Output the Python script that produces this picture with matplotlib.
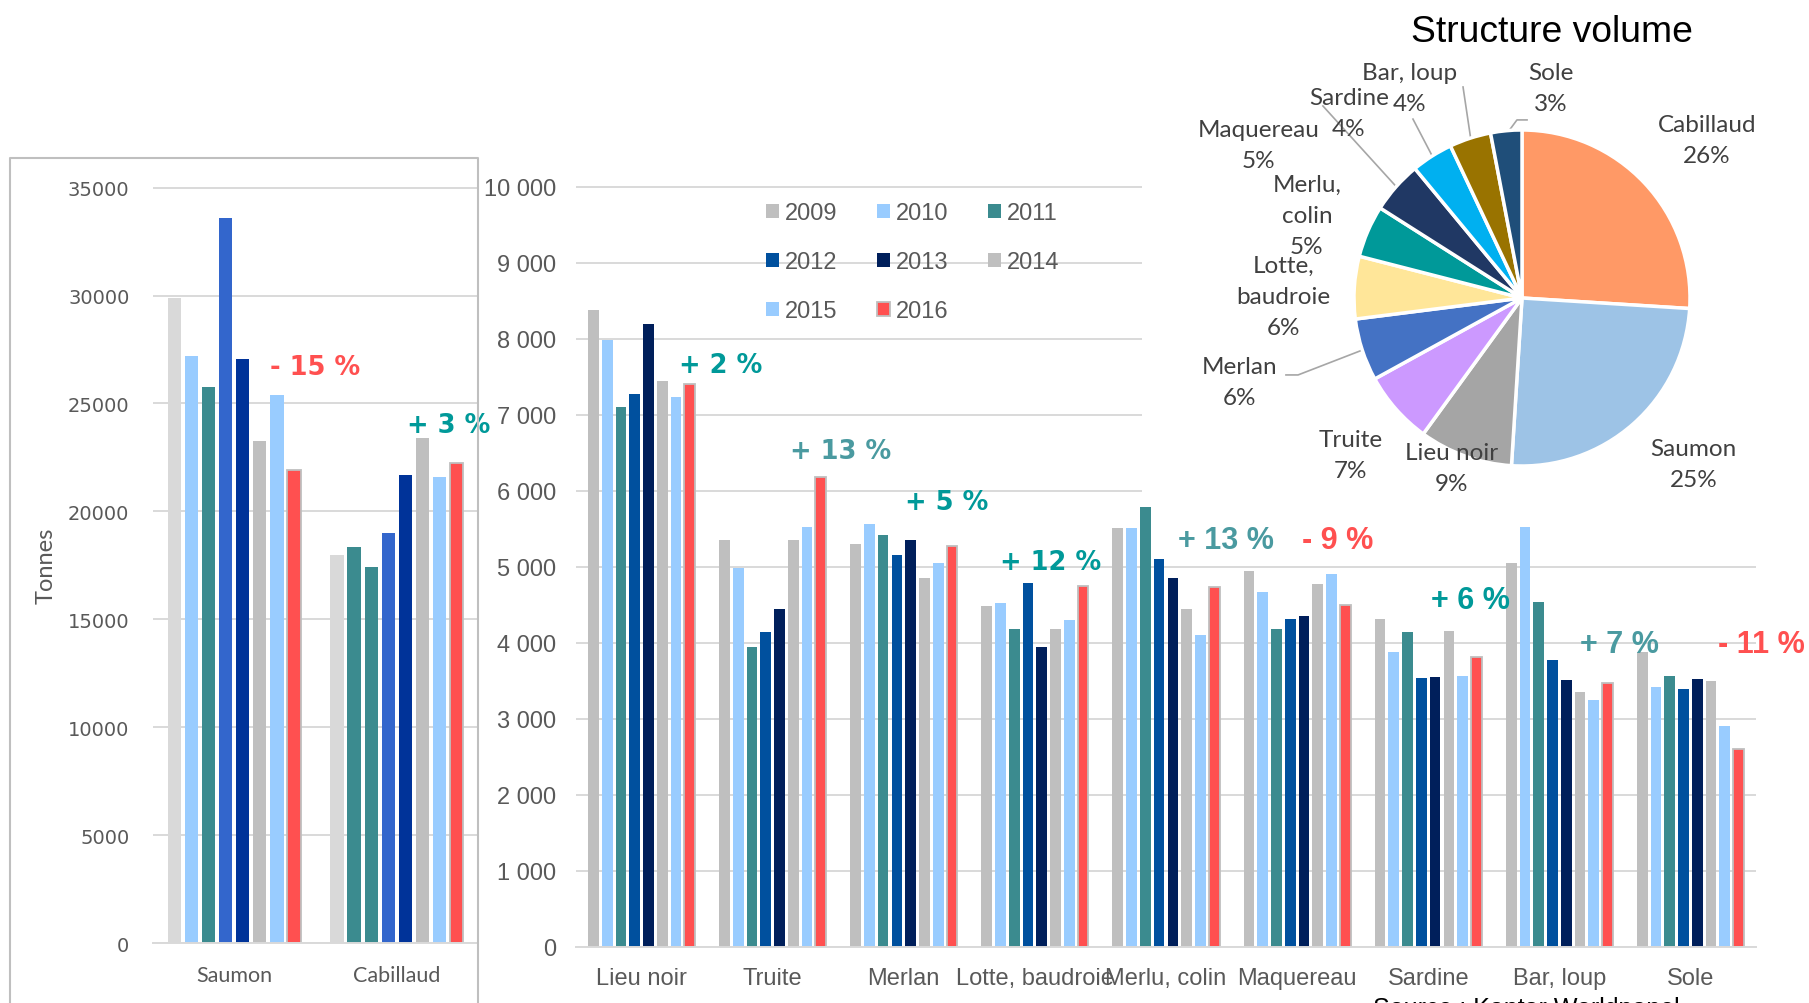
import matplotlib
matplotlib.use("Agg")
import matplotlib.pyplot as plt
from matplotlib.patches import Patch
from matplotlib.lines import Line2D
import numpy as np

# ---- data ----
years = ["2009", "2010", "2011", "2012", "2013", "2014", "2015", "2016"]

# left panel, tonnes
left_species = ["Saumon", "Cabillaud"]
saumon = [29900, 27180, 25770, 33590, 27080, 23250, 25370, 21940]
cabillaud = [17980, 18330, 17400, 18990, 21690, 23400, 21610, 22240]
left_changes = ["- 15 %", "+ 3 %"]

# middle panel, tonnes per year
species = ["Lieu noir", "Truite", "Merlan", "Lotte, baudroie", "Merlu, colin",
           "Maquereau", "Sardine", "Bar, loup", "Sole"]
v2009 = [8380, 5350, 5300, 4490, 5510, 4940, 4310, 5050, 3880]
v2010 = [7990, 4980, 5560, 4520, 5510, 4670, 3880, 5520, 3420]
v2011 = [7100, 3940, 5420, 4180, 5790, 4180, 4150, 4540, 3560]
v2012 = [7280, 4150, 5160, 4790, 5100, 4320, 3540, 3770, 3390]
v2013 = [8190, 4450, 5350, 3940, 4850, 4360, 3550, 3510, 3520]
v2014 = [7450, 5360, 4860, 4180, 4440, 4780, 4160, 3360, 3500]
v2015 = [7240, 5530, 5050, 4300, 4110, 4900, 3570, 3250, 2910]
v2016 = [7400, 6180, 5270, 4750, 4740, 4500, 3820, 3470, 2610]
changes = ["+ 2 %", "+ 13 %", "+ 5 %", "+ 12 %", "+ 13 %", "- 9 %", "+ 6 %", "+ 7 %", "- 11 %"]

# pie, share of volume
pie_names = ["Cabillaud", "Saumon", "Lieu noir", "Truite", "Merlan", "Lotte,\nbaudroie",
             "Merlu,\ncolin", "Maquereau", "Sardine", "Bar, loup", "Sole"]
pie_shares = [26, 25, 9, 7, 6, 6, 5, 5, 4, 4, 3]

# ---- style / layout ----
W, H = 1809, 1004
GRID = "#D9D9D9"
TXT = "#595959"
TEAL = "#009999"
TEAL2 = "#4A9AA0"
RED = "#FF5050"

left_colors = ["#D9D9D9", "#99CCFF", "#3B8B8F", "#3366CC", "#003399", "#BFBFBF", "#99CCFF", "#FF5050"]
mid_colors = ["#BFBFBF", "#99CCFF", "#3B8B8F", "#00509E", "#001F5B", "#BFBFBF", "#99CCFF", "#FF5050"]
pie_colors = ["#FF9966", "#9DC3E6", "#A5A5A5", "#CC99FF", "#4472C4", "#FFE699",
              "#009999", "#203864", "#00B0F0", "#997300", "#1F4E79"]

# annotation positions (data coords)
left_change_pos = [(0.50, 26700), (1.32, 24000)]
left_change_col = [RED, TEAL]
change_pos = [(0.60, 7660), (1.52, 6530), (2.33, 5850), (3.12, 5060), (4.46, 5350),
              (5.31, 5350), (6.32, 4570), (7.46, 3990), (8.54, 3990)]
change_col = [TEAL, TEAL2, TEAL, TEAL, TEAL2, RED, TEAL, TEAL2, RED]
change_wide = [True, True, True, True, False, False, False, False, False]

# pie label positions (pie data coords, radius 1)
pie_label_pos = [(1.10, 0.94), (1.02, -0.99), (-0.42, -1.01), (-1.02, -0.935), (-1.68, -0.50),
                 (-1.42, 0.01), (-1.28, 0.49), (-1.57, 0.91), (-1.03, 1.10), (-0.67, 1.25), (0.17, 1.25)]
leaders = {4: [(-1.405, -0.458), (-1.333, -0.458)], 7: [(-1.185, 1.143)], 8: [(-0.649, 1.065)],
           9: [(-0.351, 1.256)], 10: [(0.03, 1.06), (-0.03, 1.06)]}


def px_axes(x0, y0, x1, y1, **kw):
    return fig.add_axes([x0 / W, 1 - y1 / H, (x1 - x0) / W, (y1 - y0) / H], **kw)


def grouped_bars(ax, series, colors, n_cat, group=0.84, fill=0.78):
    n = len(series)
    slot = group / n
    x = np.arange(n_cat)
    out = []
    for i, (vals, col) in enumerate(zip(series, colors)):
        ec = "#BFBFBF" if i == n - 1 else col
        lw = 1.3 if i == n - 1 else 0
        out.append(ax.bar(x - group / 2 + slot * (i + 0.5), vals, slot * fill, color=col,
                          edgecolor=ec, linewidth=lw, label=years[i], zorder=2))
    return out


def style_axis(ax):
    for s in ["top", "right", "left"]:
        ax.spines[s].set_visible(False)
    ax.spines["bottom"].set_color(GRID)
    ax.spines["bottom"].set_linewidth(1.4)
    ax.yaxis.grid(True, color=GRID, linewidth=1.4)
    ax.set_axisbelow(True)
    ax.tick_params(length=0, colors=TXT)


fig = plt.figure(figsize=(W / 100, H / 100), dpi=100)

# ---- left panel ----
axl = px_axes(153, 188, 478, 944)
left_series = [[s, c] for s, c in zip(saumon, cabillaud)]
bars = grouped_bars(axl, left_series, left_colors, len(left_species))
bars[1][1].set_color("#3B8B8F")  # 2010 cabillaud bar is teal in the original
axl.set_xlim(-0.5, 1.5)
axl.set_ylim(0, 35030)
axl.set_yticks(np.arange(0, 35001, 5000))
axl.set_yticklabels([str(v) for v in range(0, 35001, 5000)], family="DejaVu Sans", fontsize=14)
axl.set_xticks(range(len(left_species)))
axl.set_xticklabels(left_species, family="Lato", fontsize=15.5)
style_axis(axl)
axl.tick_params(axis="y", pad=17)
axl.tick_params(axis="x", pad=16)
for txt, (x, y), c in zip(left_changes, left_change_pos, left_change_col):
    axl.text(x, y, txt, color=c, fontsize=18.5, fontweight="bold", family="DejaVu Sans",
             ha="center", va="center", clip_on=False, zorder=5)
fig.text(46 / W, 1 - 566 / H, "Tonnes", rotation=90, ha="center", va="center",
         family="Lato", fontsize=17, color=TXT)
fig.add_artist(Line2D([10 / W, 10 / W, 478 / W, 478 / W], [0, 1 - 159 / H, 1 - 159 / H, 0],
                      color="#BFBFBF", linewidth=1.5))

# ---- middle panel ----
axm = px_axes(576, 187, 1756, 948)
mid_series = [v2009, v2010, v2011, v2012, v2013, v2014, v2015, v2016]
grouped_bars(axm, mid_series, mid_colors, len(species))
axm.set_xlim(-0.5, len(species) - 0.5)
axm.set_ylim(0, 10010)
axm.set_yticks(np.arange(0, 10001, 1000))
axm.set_yticklabels([f"{v:,}".replace(",", " ") for v in range(0, 10001, 1000)],
                    family="Liberation Sans", fontsize=17)
axm.set_xticks(range(len(species)))
axm.set_xticklabels(species, family="Liberation Sans", fontsize=17)
style_axis(axm)
axm.tick_params(axis="y", pad=14)
axm.tick_params(axis="x", pad=14.5)
for txt, (x, y), c, wide in zip(changes, change_pos, change_col, change_wide):
    if wide:
        axm.text(x, y, txt, color=c, fontsize=18.5, fontweight="bold", family="DejaVu Sans",
                 ha="center", va="center", clip_on=False, zorder=5)
    else:
        axm.text(x, y, txt, color=c, fontsize=22, fontweight="bold", family="Liberation Sans",
                 ha="center", va="center", clip_on=False, zorder=5)

handles = [Patch(facecolor=c, edgecolor=("#BFBFBF" if i == 7 else c), linewidth=(1.3 if i == 7 else 0))
           for i, c in enumerate(mid_colors)]
order = [0, 3, 6, 1, 4, 7, 2, 5]
axm.legend([handles[i] for i in order], [years[i] for i in order], ncol=3, loc="upper left",
           bbox_to_anchor=(766 / W, 1 - 203 / H), bbox_transform=fig.transFigure, frameon=False,
           prop={"family": "Liberation Sans", "size": 17}, labelcolor=TXT,
           handlelength=0.55, handleheight=0.55, handletextpad=0.25, columnspacing=1.68,
           labelspacing=1.15, borderpad=0, borderaxespad=0)

# ---- pie ----
axp = px_axes(1142, 0, 1809, 505, zorder=5)
axp.pie(pie_shares, colors=pie_colors, startangle=90, counterclock=False, radius=1,
        wedgeprops=dict(edgecolor="white", linewidth=2.5))
cx, cy, r = 1522 - 1142, 505 - 299, 168
axp.set_aspect("auto")
axp.set_xlim(-cx / r, (667 - cx) / r)
axp.set_ylim(-cy / r, (505 - cy) / r)
axp.set_frame_on(True)
for s in axp.spines.values():
    s.set_visible(False)
axp.patch.set_facecolor("white")

cum = np.cumsum([0] + pie_shares)
total = cum[-1]
for i, (name, share) in enumerate(zip(pie_names, pie_shares)):
    lx, ly = pie_label_pos[i]
    axp.text(lx, ly, f"{name}\n{share}%", ha="center", va="center", family="Lato",
             fontsize=17.5, color="#404040", linespacing=1.6)
    if i in leaders:
        ang = np.deg2rad(90 - 360 * (cum[i] + share / 2) / total)
        pts = leaders[i] + [(0.98 * np.cos(ang), 0.98 * np.sin(ang))]
        axp.plot([p[0] for p in pts], [p[1] for p in pts], color="#A6A6A6", linewidth=1.2, zorder=0.5)

fig.text(1552 / W, 1 - 32 / H, "Structure volume", ha="center", va="center",
         family="Liberation Sans", fontsize=26.8, color="black", zorder=10)
fig.text(1373 / W, 1 - 997 / H, "Source : Kantar Worldpanel", ha="left", va="top",
         family="Liberation Sans", fontsize=18, color="black")

fig.savefig("out.png", dpi=100)
